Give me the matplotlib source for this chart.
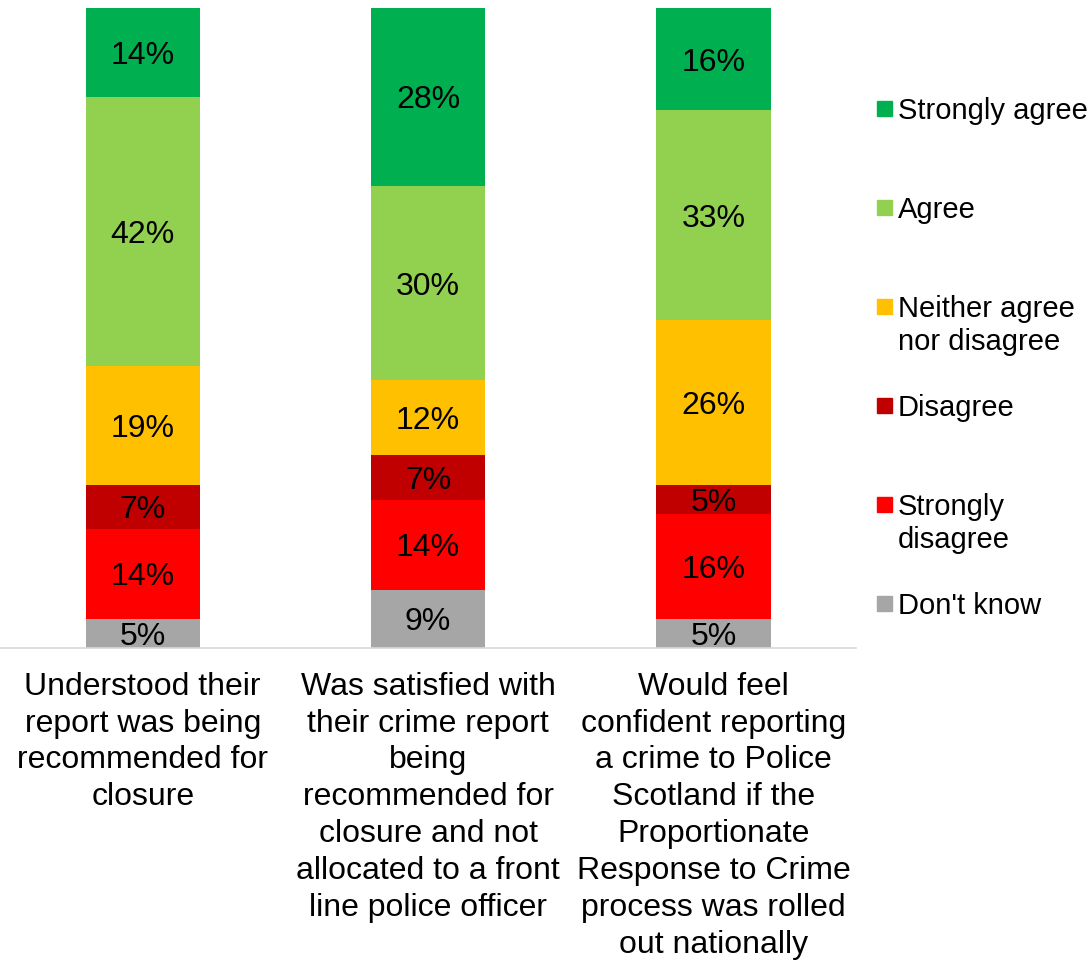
import numpy as np
import matplotlib.pyplot as plt
from matplotlib.patches import Rectangle

plt.rcParams['font.family'] = ['Liberation Sans', 'DejaVu Sans']

# categories (x axis)
questions = [
    "Understood their\nreport was being\nrecommended for\nclosure",
    "Was satisfied with\ntheir crime report\nbeing\nrecommended for\nclosure and not\nallocated to a front\nline police officer",
    "Would feel\nconfident reporting\na crime to Police\nScotland if the\nProportionate\nResponse to Crime\nprocess was rolled\nout nationally",
]

# series (percent of respondents), bottom to top
dont_know = [4.6, 9.1, 4.6]
strongly_disagree = [14.0, 14.1, 16.3]
disagree = [6.9, 6.9, 4.6]
neither = [18.6, 11.7, 25.7]
agree = [42.0, 30.4, 32.8]
strongly_agree = [13.9, 27.8, 16.0]

series = [dont_know, strongly_disagree, disagree, neither, agree, strongly_agree]
names = ["Don't know", "Strongly\ndisagree", "Disagree",
         "Neither agree\nnor disagree", "Agree", "Strongly agree"]
colors = ['#A6A6A6', '#FF0000', '#C00000', '#FFC000', '#92D050', '#00B050']

vals = np.array(series, dtype=float)

fig = plt.figure(figsize=(10.92, 9.6), dpi=100)
ax = fig.add_axes([0, 0.325, 0.784, 0.6667])

x = np.arange(len(questions))
bottom = np.zeros(len(questions))
for i in range(len(series)):
    ax.bar(x, vals[i], 0.4, bottom=bottom, color=colors[i])
    for j in range(len(x)):
        ax.text(x[j], bottom[j] + vals[i][j] / 2, f"{vals[i][j]:.0f}%",
                ha='center', va='center_baseline', fontsize=23, color='black')
    bottom += vals[i]

ax.set_xlim(-0.5, 2.5)
ax.set_ylim(0, 100)
ax.set_yticks([])
ax.set_xticks(x)
ax.set_xticklabels(questions, fontsize=23, linespacing=1.3, va='top')
ax.tick_params(axis='x', length=0, pad=17)
for s in ['left', 'right', 'top']:
    ax.spines[s].set_visible(False)
ax.spines['bottom'].set_color('#D9D9D9')
ax.spines['bottom'].set_linewidth(1.2)

# legend, top to bottom
for k in range(len(names)):
    idx = len(names) - 1 - k
    yb = 117 + 99 * k  # baseline of first line, pixels from top
    fig.patches.append(Rectangle((877 / 1092, 1 - (yb - 1) / 960), 15 / 1092, 15 / 960,
                                 transform=fig.transFigure, color=colors[idx]))
    fig.text(898 / 1092, 1 - (yb - 20) / 960, names[idx], fontsize=21, va='top',
             ha='left', linespacing=1.24)

fig.savefig('out.png', dpi=100)
